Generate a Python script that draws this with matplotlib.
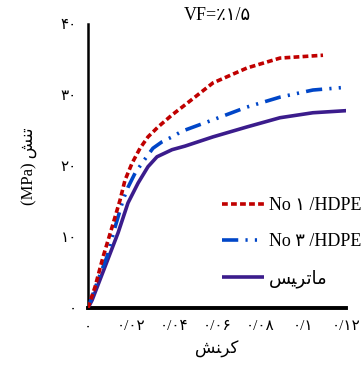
import matplotlib
matplotlib.use("Agg")
import matplotlib.pyplot as plt

# Data (strain, stress MPa)
strain_no1 = [0.0, 0.0033, 0.0070, 0.0112, 0.0149, 0.0172, 0.0205, 0.0242, 0.0279, 0.0326,
              0.0391, 0.0451, 0.0581, 0.0739, 0.0893, 0.1093]
stress_no1 = [0.0, 3.0, 7.2, 11.4, 15.2, 18.0, 20.4, 22.5, 24.1, 25.5,
              27.2, 28.6, 31.7, 33.8, 35.2, 35.6]

strain_no3 = [0.0, 0.0046, 0.0088, 0.0126, 0.0163, 0.0186, 0.0219, 0.0256, 0.0302, 0.0344,
              0.0391, 0.0437, 0.0581, 0.0739, 0.0893, 0.1046, 0.1204]
stress_no3 = [0.0, 3.9, 7.2, 11.4, 15.2, 17.0, 19.0, 20.6, 22.5, 23.4,
              24.1, 24.9, 26.5, 28.3, 29.7, 30.7, 31.1]

strain_mat = [0.0, 0.0019, 0.0079, 0.0140, 0.0186, 0.0233, 0.0279, 0.0321, 0.0391, 0.0451,
              0.0581, 0.0739, 0.0893, 0.1046, 0.1204]
stress_mat = [0.0, 1.1, 5.8, 10.6, 14.8, 17.6, 19.9, 21.3, 22.3, 22.8,
              24.1, 25.5, 26.8, 27.5, 27.8]

xticks = [0, 0.02, 0.04, 0.06, 0.08, 0.10, 0.12]
xtick_labels = ["۰", "۰/۰۲", "۰/۰۴", "۰/۰۶", "۰/۰۸", "۰/۱", "۰/۱۲"]
yticks = [0, 10, 20, 30, 40]
ytick_labels = ["۰", "۱۰", "۲۰", "۳۰", "۴۰"]

# Persian strings in visual (shaped) order
label_no1 = "No ۱ /HDPE"
label_no3 = "No ۳ /HDPE"
label_mat = "\uFEB2\uFEF4\uFEAE\uFE97\uFE8E\uFEE3"   # ماتریس
xlabel_txt = "\uFEB6\uFEE8\uFEAE\uFB90"                # کرنش
ylabel_txt = "(MPa) \uFEB6\uFEE8\uFE97"                # تنش (MPa)
title_txt = "VF=٪۱/۵"

fam = ["Liberation Serif", "DejaVu Serif", "DejaVu Sans"]
plt.rcParams["font.family"] = fam

fig = plt.figure(figsize=(3.61, 3.67), dpi=100)
ax = fig.add_axes([88/361, 1-308/367, (346-88)/361, (308-24)/367])

ax.plot(strain_mat, stress_mat, color="#3B1C8C", lw=2.6, solid_capstyle="butt", label=label_mat, zorder=2)
ax.plot(strain_no3, stress_no3, color="#0046C8", lw=2.6, linestyle=(0, (4.5, 2.0, 0.6, 2.0, 0.6, 2.0)),
        dash_capstyle="butt", label=label_no3, zorder=3)
ax.plot(strain_no1, stress_no1, color="#C00000", lw=2.6, linestyle=(0, (1.6, 0.9)),
        dash_capstyle="butt", label=label_no1, zorder=4)

ax.set_xlim(0, 0.12)
ax.set_ylim(0, 40)
ax.set_xticks(xticks)
ax.set_xticklabels(xtick_labels, fontsize=11)
ax.set_yticks(yticks)
ax.set_yticklabels(ytick_labels, fontsize=11)
ax.tick_params(length=0)
ax.tick_params(axis="x", pad=9)
ax.tick_params(axis="y", pad=8)

for s in ["top", "right"]:
    ax.spines[s].set_visible(False)
ax.spines["left"].set_linewidth(1.8)
ax.spines["bottom"].set_linewidth(2.8)

ax.set_xlabel(xlabel_txt, fontsize=12, labelpad=5, family=["DejaVu Sans"])
ax.set_ylabel(ylabel_txt, fontsize=12, labelpad=16)
ax.set_title(title_txt, fontsize=13, pad=-3)

handles, labels = ax.get_legend_handles_labels()
order = [2, 1, 0]
leg = fig.legend([handles[i] for i in order], [labels[i] for i in order],
                 loc="upper left", bbox_to_anchor=(215/361, 1-190/367), frameon=False,
                 fontsize=13, handlelength=2.3, labelspacing=1.05, handletextpad=0.3,
                 borderaxespad=0)

fig.savefig("out.png", dpi=100)
